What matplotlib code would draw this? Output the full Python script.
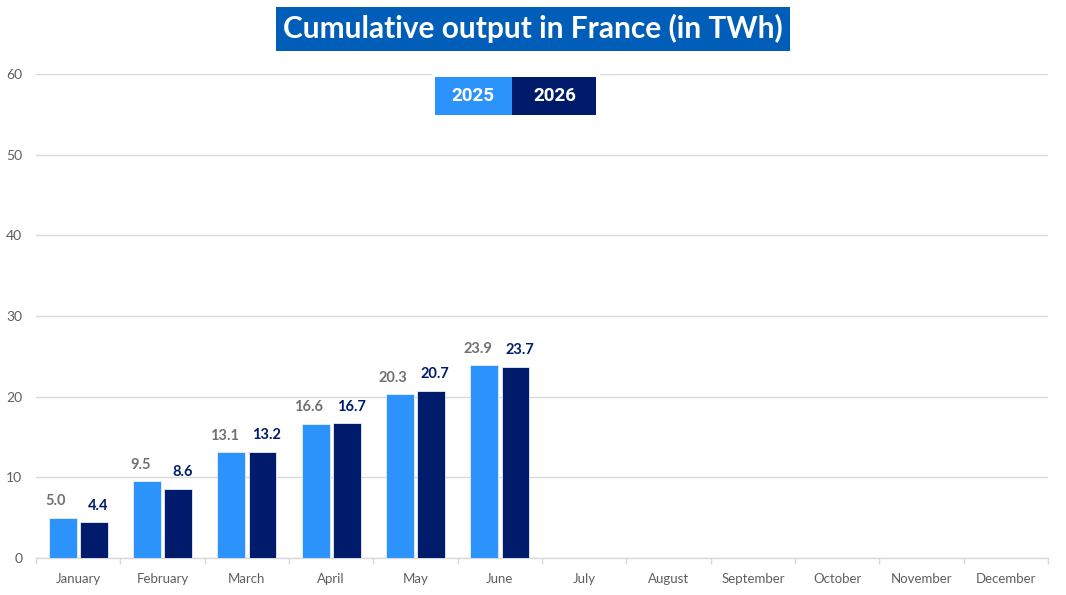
import numpy as np
import matplotlib.pyplot as plt
from matplotlib.patches import Rectangle

months = ['January', 'February', 'March', 'April', 'May', 'June', 'July',
          'August', 'September', 'October', 'November', 'December']
vals_2025 = [5.0, 9.5, 13.1, 16.6, 20.3, 23.9]
vals_2026 = [4.4, 8.6, 13.2, 16.7, 20.7, 23.7]
series_names = ['2025', '2026']

c25 = '#2B93FB'
c26 = '#001B6B'
grid_c = '#D9D9D9'
txt_c = '#5F5F5F'

plt.rcParams['font.family'] = ['Lato', 'DejaVu Sans']

fig = plt.figure(figsize=(10.66, 5.95), dpi=100)
ax = fig.add_axes([0.0338, 0.0622, 0.9494, 0.8134])

x = np.arange(len(months))
w = 0.33
off = 0.185
x25 = x[:len(vals_2025)] - off
x26 = x[:len(vals_2026)] + off
ax.bar(x25, vals_2025, w, color=c25, edgecolor='#E8EEF8', linewidth=0.6, zorder=3)
ax.bar(x26, vals_2026, w, color=c26, edgecolor='#E8EEF8', linewidth=0.6, zorder=3)

for xi, v in zip(x25, vals_2025):
    ax.text(xi - 0.08, v + 1.2, f'{v:.1f}', ha='center', va='bottom',
            fontsize=10.5, color='#707070', fontweight='bold', zorder=4)
for xi, v in zip(x26, vals_2026):
    ax.text(xi + 0.05, v + 1.2, f'{v:.1f}', ha='center', va='bottom',
            fontsize=10.5, color=c26, fontweight='bold', zorder=4)

ax.set_xlim(-0.5, len(months) - 0.5)
ax.set_ylim(0, 60)
ax.set_yticks(range(0, 61, 10))
ax.yaxis.grid(True, color=grid_c, linewidth=1, zorder=0)
ax.set_axisbelow(True)

ax.set_xticks(x)
ax.set_xticklabels(months, fontsize=9.5, color=txt_c)
ax.set_xticks(np.arange(-0.5, len(months), 1), minor=True)
ax.tick_params(axis='x', which='major', length=0, pad=10.5)
ax.tick_params(axis='x', which='minor', length=4, color=grid_c, width=1)
ax.tick_params(axis='y', length=0, labelsize=10, labelcolor=txt_c, pad=10)

for s in ['top', 'right', 'left']:
    ax.spines[s].set_visible(False)
ax.spines['bottom'].set_color(grid_c)
ax.spines['bottom'].set_linewidth(1)

# title
fig.text(0.5, 0.952, 'Cumulative output in France (in TWh)', ha='center', va='center',
         fontsize=21.5, fontweight='bold', color='white',
         bbox=dict(boxstyle='square,pad=0.25', facecolor='#005EB8', edgecolor='none'))

# legend boxes
fig.patches.append(Rectangle((0.4055, 0.800), 0.1575, 0.078, transform=fig.transFigure,
                             facecolor='white', edgecolor='none', zorder=5))
fig.patches.append(Rectangle((0.408, 0.807), 0.0725, 0.063, transform=fig.transFigure,
                             facecolor=c25, edgecolor='none', zorder=6))
fig.patches.append(Rectangle((0.4805, 0.807), 0.0785, 0.063, transform=fig.transFigure,
                             facecolor=c26, edgecolor='none', zorder=6))
fig.text(0.444, 0.8385, series_names[0], ha='center', va='center', fontsize=13.5,
         fontweight='bold', color='white', family=['Roboto', 'DejaVu Sans'], zorder=7)
fig.text(0.520, 0.8385, series_names[1], ha='center', va='center', fontsize=13.5,
         fontweight='bold', color='white', family=['Roboto', 'DejaVu Sans'], zorder=7)

fig.savefig('out.png', dpi=100)
